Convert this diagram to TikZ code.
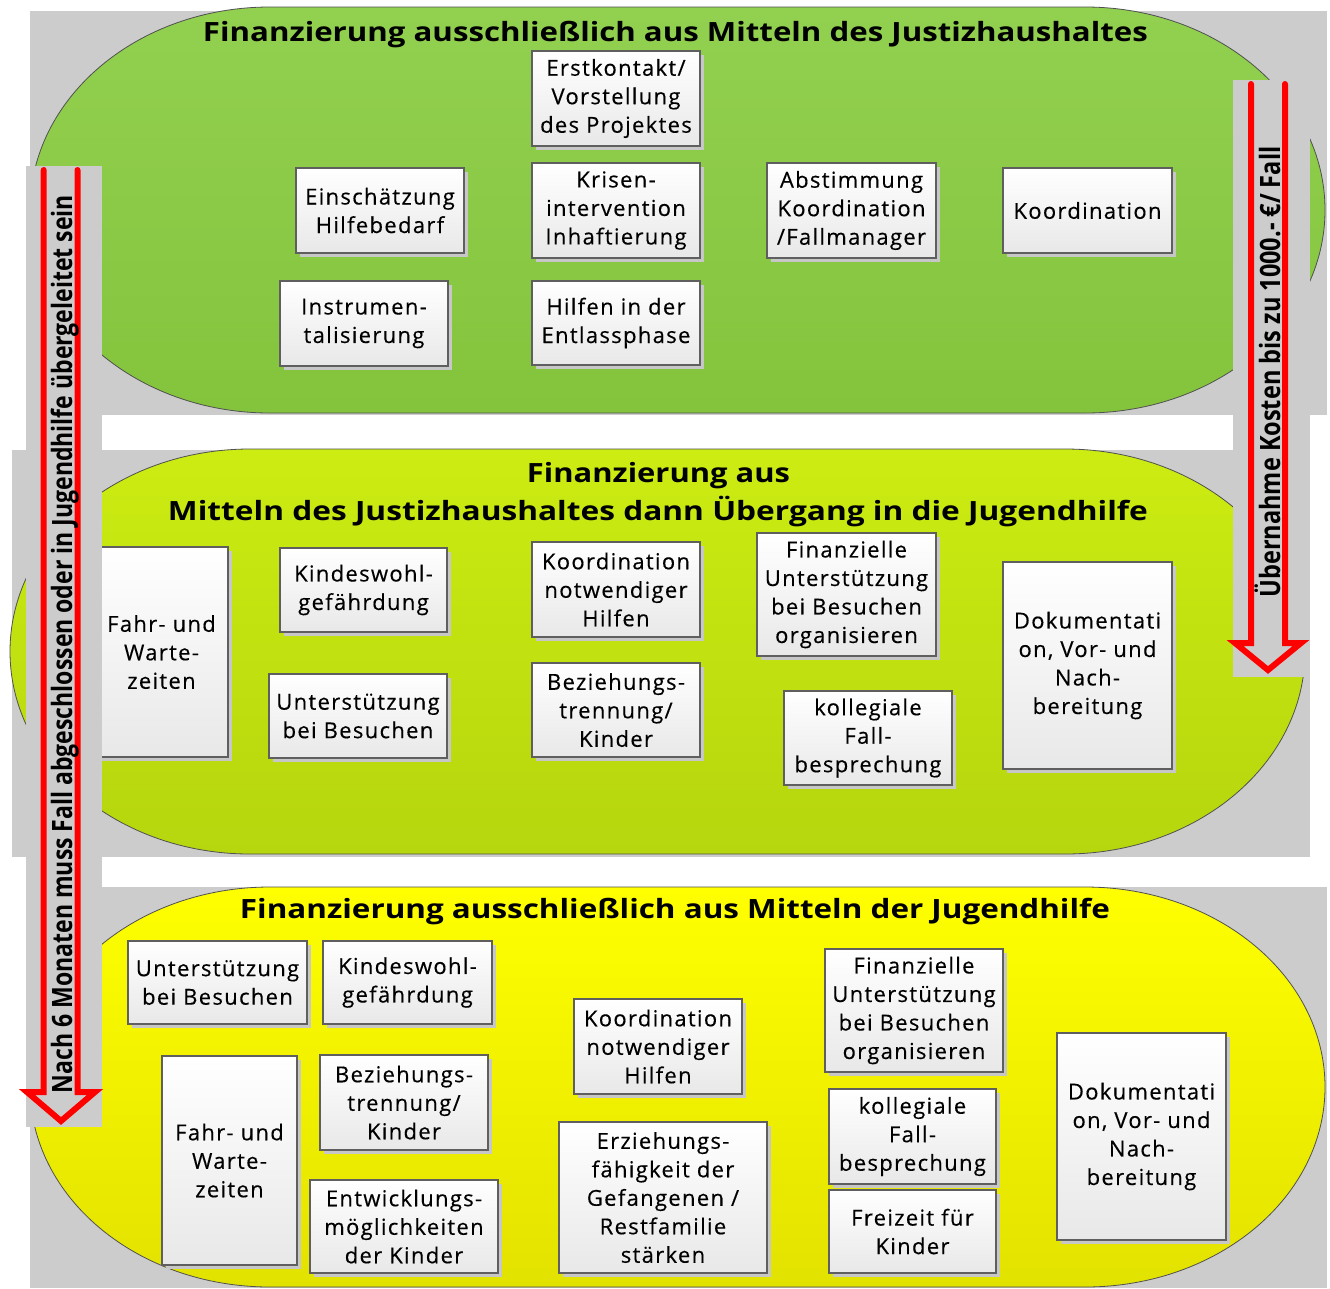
\documentclass[tikz,border=0pt]{standalone}
\usepackage{fontspec}
\usepackage{graphicx}
\setmainfont{Open Sans}
\newfontfamily\boxfont[LetterSpace=6,FakeBold=0.35]{Open Sans}
\usetikzlibrary{shadows}
\definecolor{bggrey}{RGB}{204,204,204}
\definecolor{gAtop}{RGB}{146,208,80}
\definecolor{gAbot}{RGB}{132,196,60}
\definecolor{gBtop}{RGB}{204,236,18}
\definecolor{gBbot}{RGB}{182,214,14}
\definecolor{gCtop}{RGB}{255,255,0}
\definecolor{gCbot}{RGB}{226,226,0}
\definecolor{boxline}{RGB}{95,95,95}
\definecolor{edgeline}{RGB}{80,80,80}
\definecolor{arrred}{RGB}{255,0,0}
\tikzset{
  stadium/.style={draw=edgeline, line width=0.8pt},
  box/.style={draw=boxline, line width=1.2pt, top color=white, bottom color=black!9,
    align=center, inner sep=0pt, font=\boxfont\fontsize{22}{28.5}\selectfont,
    drop shadow={shadow xshift=3.5pt, shadow yshift=-3.5pt, fill=black!22, opacity=1}},
  titletext/.style={inner sep=0pt, anchor=base, font=\bfseries\fontsize{26.5}{30}\selectfont},
  vtext/.style={inner sep=0pt, anchor=base, rotate=90, font=\bfseries\fontsize{28}{30}\selectfont},
  bigarrow/.style={draw=arrred, line width=6pt, line cap=round, line join=miter, miter limit=3},
  strip/.style={fill=bggrey}
}
\newcommand\bx[6]{%
  \pgfmathsetmacro\bxcx{(#2+#4)/2}\pgfmathsetmacro\bxcy{(#3+#5)/2}%
  \pgfmathsetmacro\bxw{#4-#2}\pgfmathsetmacro\bxh{#5-#3}%
  \node[box, minimum width=\bxw pt, minimum height=\bxh pt] (#1) at (\bxcx,\bxcy) {#6};}
\begin{document}
\begin{tikzpicture}[x=1pt,y=-1pt]
\useasboundingbox (0,0) rectangle (1330,1288);
% grey backgrounds
\fill[bggrey] (30,11) rectangle (1327,415);
\fill[bggrey] (12,450) rectangle (1310,857);
\fill[bggrey] (30,887) rectangle (1327,1288);
% stadium shapes
\path[stadium, top color=gAtop, bottom color=gAbot] (270,7) -- (1085,7)
  arc[start angle=-90, end angle=90, x radius=240, y radius=203] -- (270,413)
  arc[start angle=90, end angle=270, x radius=240, y radius=203] -- cycle;
\path[stadium, top color=gBtop, bottom color=gBbot] (250,449) -- (1065,449)
  arc[start angle=-90, end angle=90, x radius=240, y radius=202.5] -- (250,854)
  arc[start angle=90, end angle=270, x radius=240, y radius=202.5] -- cycle;
\path[stadium, top color=gCtop, bottom color=gCbot] (270,887) -- (1085,887)
  arc[start angle=-90, end angle=90, x radius=240, y radius=200] -- (270,1287)
  arc[start angle=90, end angle=270, x radius=240, y radius=200] -- cycle;
% titles
\node[titletext] (t1) at (675.5,41) {\resizebox{945pt}{\height}{Finanzierung ausschließlich aus Mitteln des Justizhaushaltes}};
\node[titletext] (t2a) at (658.5,482) {\resizebox{263pt}{\height}{Finanzierung aus}};
\node[titletext] (t2b) at (658,520) {\resizebox{980pt}{\height}{Mitteln des Justizhaushaltes dann Übergang in die Jugendhilfe}};
\node[titletext] (t3) at (675,918) {\resizebox{870pt}{\height}{Finanzierung ausschließlich aus Mitteln der Jugendhilfe}};
% top section boxes
\bx{erst}{532}{51}{700}{146}{Erstkontakt/\\Vorstellung\\des Projektes}
\bx{krise}{532}{163}{700}{258}{Krisen-\\intervention\\Inhaftierung}
\bx{entl}{532}{281}{700}{365}{Hilfen in der\\Entlassphase}
\bx{abst}{767}{163}{936}{258}{Abstimmung\\Koordination\\/Fallmanager}
\bx{einsch}{296}{168}{464}{253}{Einschätzung\\Hilfebedarf}
\bx{instr}{280}{281}{448}{366}{Instrumen-\\talisierung}
\bx{koord}{1003}{168}{1172}{253}{Koordination}
% middle section boxes
\bx{mfahr}{95}{547}{228}{757}{Fahr- und\\Warte-\\zeiten}
\bx{mkind}{280}{548}{447}{632}{Kindeswohl-\\gefährdung}
\bx{munt}{269}{674}{447}{758}{Unterstützung\\bei Besuchen}
\bx{mkoord}{532}{542}{700}{637}{Koordination\\notwendiger\\Hilfen}
\bx{mbez}{532}{663}{700}{757}{Beziehungs-\\trennung/\\Kinder}
\bx{mfin}{757}{533}{936}{656}{Finanzielle\\Unterstützung\\bei Besuchen\\organisieren}
\bx{mkoll}{784}{691}{952}{785}{kollegiale\\Fall-\\besprechung}
\bx{mdok}{1003}{562}{1172}{769}{Dokumentati\\on, Vor- und\\Nach-\\bereitung}
% bottom section boxes
\bx{bunt}{128}{941}{307}{1024}{Unterstützung\\bei Besuchen}
\bx{bkind}{323}{941}{492}{1024}{Kindeswohl-\\gefährdung}
\bx{bfahr}{162}{1056}{297}{1265}{Fahr- und\\Warte-\\zeiten}
\bx{bbez}{320}{1055}{488}{1150}{Beziehungs-\\trennung/\\Kinder}
\bx{bentw}{310}{1180}{498}{1273}{Entwicklungs-\\möglichkeiten\\der Kinder}
\bx{bkoord}{574}{999}{742}{1094}{Koordination\\notwendiger\\Hilfen}
\bx{berz}{559}{1122}{767}{1273}{Erziehungs-\\fähigkeit der\\Gefangenen /\\Restfamilie\\stärken}
\bx{bfin}{825}{949}{1003}{1072}{Finanzielle\\Unterstützung\\bei Besuchen\\organisieren}
\bx{bkoll}{829}{1089}{996}{1184}{kollegiale\\Fall-\\besprechung}
\bx{bfrei}{829}{1190}{996}{1273}{Freizeit für\\Kinder}
\bx{bdok}{1057}{1033}{1226}{1240}{Dokumentati\\on, Vor- und\\Nach-\\bereitung}
% arrow strips
\fill[strip] (26,166) rectangle (102,1127);
\fill[strip] (1233,80) rectangle (1310,677);
% left arrow
\draw[bigarrow] (43.7,170) -- (43.7,1092) -- (27,1092) -- (61,1121) -- (95,1092) -- (77.5,1092) -- (77.5,170);
\node[vtext] (ltext) at (72,644) {\resizebox{898pt}{\height}{Nach 6 Monaten muss Fall abgeschlossen oder in Jugendhilfe übergeleitet sein}};
% right arrow
\draw[bigarrow] (1251,84) -- (1251,643) -- (1235,643) -- (1268,670) -- (1301,643) -- (1285,643) -- (1285,84);
\node[vtext] (rtext) at (1280,372) {\resizebox{451pt}{\height}{Übernahme Kosten bis zu 1000.- €/ Fall}};
\end{tikzpicture}
\end{document}
